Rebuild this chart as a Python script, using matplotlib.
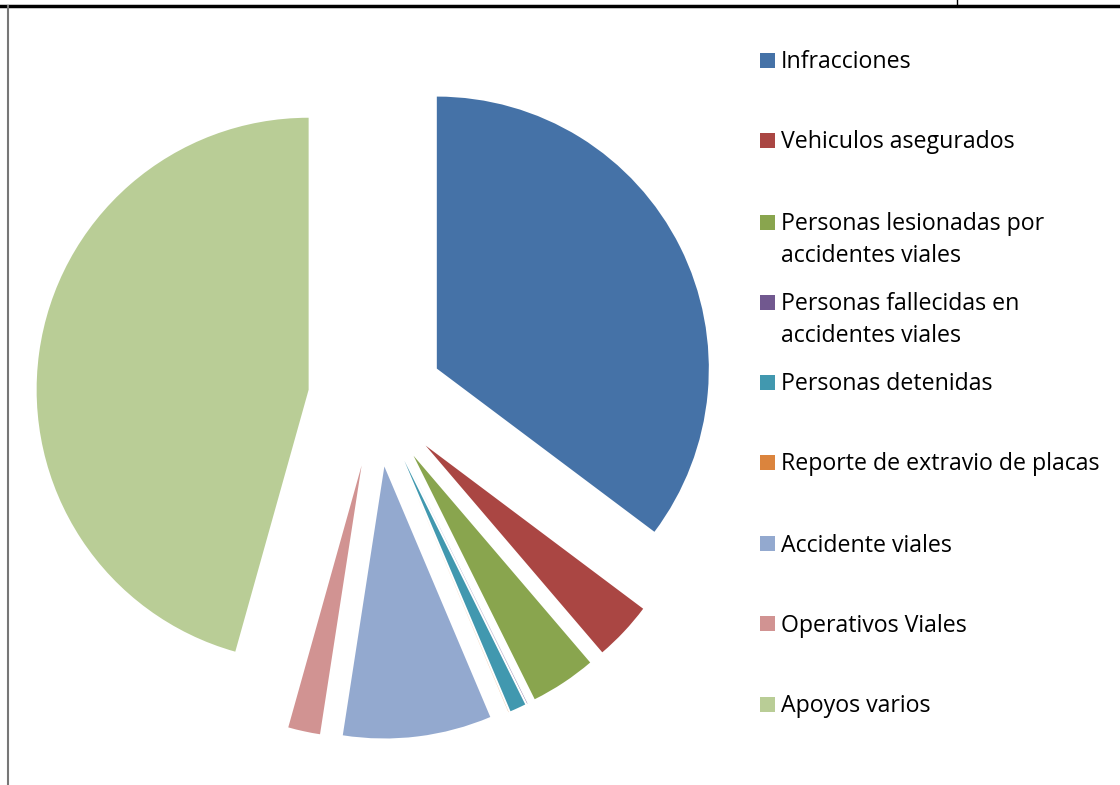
import matplotlib
matplotlib.use("Agg")
import matplotlib.pyplot as plt
from matplotlib.patches import Rectangle
from matplotlib.lines import Line2D

categories = [
    "Infracciones",
    "Vehiculos asegurados",
    "Personas lesionadas por\naccidentes viales",
    "Personas fallecidas en\naccidentes viales",
    "Personas detenidas",
    "Reporte de extravio de placas",
    "Accidente viales",
    "Operativos Viales",
    "Apoyos varios",
]
values = [35.2, 3.5, 3.9, 0.02, 0.95, 0.01, 8.8, 1.9, 45.6]
colors = ["#4572A7", "#AA4643", "#89A54E", "#71588F", "#4198AF",
          "#DB843D", "#93A9CF", "#D19392", "#B9CD96"]

W, H = 1120, 785
fig = plt.figure(figsize=(W / 100, H / 100), dpi=100)

# pie axes: center at (376, 399 from top), radius 272 px
cx, cy, rpx = 376, 399, 272
L = 1.35
half = L * rpx
ax = fig.add_axes([(cx - half) / W, (H - cy - half) / H, 2 * half / W, 2 * half / H])
ax.pie(values, colors=colors, startangle=90, counterclock=False,
       explode=[0.25] * len(values), radius=1.0,
       wedgeprops=dict(linewidth=0))
ax.set_xlim(-L, L)
ax.set_ylim(-L, L)
ax.axis("off")

# legend drawn manually
ys = [60, 140, 222, 302, 382, 462, 543, 623, 704]
for lab, col, y in zip(categories, colors, ys):
    fig.patches.append(Rectangle((760 / W, (H - y - 7.5) / H), 15 / W, 15 / H,
                                 transform=fig.transFigure, facecolor=col,
                                 edgecolor="none"))
    for i, line in enumerate(lab.split("\n")):
        fig.text(781 / W, (H - y - 2.5 - 32 * i) / H, line, ha="left", va="center",
                 fontsize=16.7, family="Open Sans", color="black")

# document border lines
fig.add_artist(Line2D([0, 1], [(H - 6) / H] * 2, color="black", lw=2.5,
                      transform=fig.transFigure))
fig.add_artist(Line2D([8 / W] * 2, [0, (H - 6) / H], color="#777777", lw=1.5,
                      transform=fig.transFigure))
fig.add_artist(Line2D([957 / W] * 2, [(H - 6) / H, 1], color="black", lw=1,
                      transform=fig.transFigure))

fig.savefig("out.png", dpi=100)
